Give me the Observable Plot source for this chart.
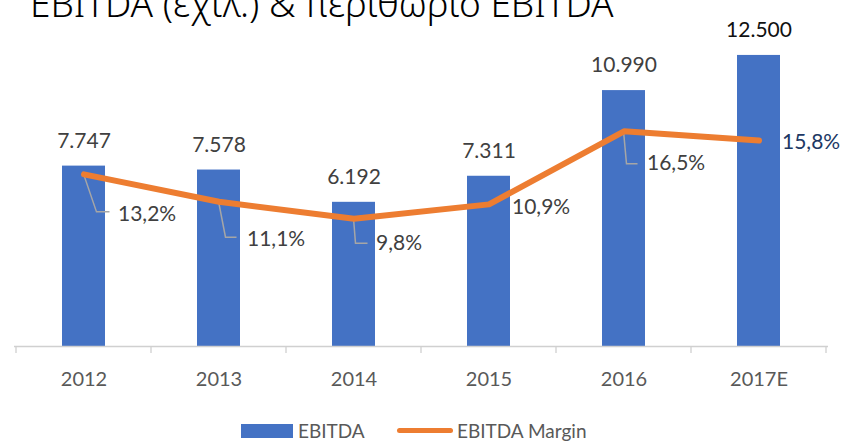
<!DOCTYPE html>
<html><head><meta charset="utf-8">
<script src="https://cdn.jsdelivr.net/npm/d3@7"></script>
<script src="https://cdn.jsdelivr.net/npm/@observablehq/plot@0.6"></script>
<style>
body{margin:0;background:#fff;font-family:Lato,"Noto Sans",sans-serif;}
#wrap{position:relative;width:846px;height:442px;overflow:hidden;background:#fff;}
#title{position:absolute;left:30px;top:-16px;font-family:"Noto Sans",sans-serif;font-weight:300;font-size:37px;line-height:37px;color:#000;white-space:nowrap;z-index:2;}
#chart svg{display:block;}
#legend{position:relative;height:32px;font-size:19px;color:#595959;}
#legend .sw1{position:absolute;left:241px;top:14px;width:52px;height:14px;background:#4472C4;}
#legend .t1{position:absolute;left:298px;top:10px;line-height:22px;}
#legend .sw2{position:absolute;left:397px;top:18px;width:56px;height:5px;border-radius:3px;background:#ED7D31;}
#legend .t2{position:absolute;left:457px;top:10px;line-height:22px;}
</style>
</head><body>
<div id="wrap">
  <div id="title">EBITDA (εχιλ.) &amp; περιθώριο EBITDA</div>
  <div id="chart"></div>
  <div id="legend"><div class="sw1"></div><div class="t1">EBITDA</div><div class="sw2"></div><div class="t2">EBITDA Margin</div></div>
</div>
<script>
const years = ["2012", "2013", "2014", "2015", "2016", "2017E"];
const ebitda = [7747, 7578, 6192, 7311, 10990, 12500];
const margin = [13.2, 11.1, 9.8, 10.9, 16.5, 15.8];
const yMax = 14000;      // primary axis max
const marginMax = 25;    // secondary axis max (%)

const rows = years.map((year, i) => ({year, ebitda: ebitda[i], margin: margin[i]}));
const toY = m => m * yMax / marginMax;

const grLocale = d3.formatLocale({decimal: ",", thousands: ".", grouping: [3], currency: ["", "€"]});
const fmtK = grLocale.format(",d");
const fmtPct = d => d.toFixed(1).replace(".", ",") + "%";

// label layout (pixel offsets from the line point)
const pctLayout = [
  {dx: 34, dy: 40, leader: [[13, 38], [26, 38]], fill: "#404040"},
  {dx: 28, dy: 38, leader: [[7, 36], [18, 36]], fill: "#404040"},
  {dx: 22, dy: 25, leader: [[2, 25], [14, 25]], fill: "#404040"},
  {dx: 23, dy: 3, leader: null, fill: "#404040"},
  {dx: 23, dy: 32, leader: [[3, 33], [14, 33]], fill: "#404040"},
  {dx: 23, dy: 2, leader: null, fill: "#203864"}
];
const barLabelFill = ["#404040", "#404040", "#404040", "#404040", "#404040", "#111111"];

const pctMarks = rows.map((r, i) => Plot.text([r], {
  x: "year", y: d => toY(d.margin), text: d => fmtPct(d.margin),
  dx: pctLayout[i].dx, dy: pctLayout[i].dy, textAnchor: "start",
  fontSize: 21, fill: pctLayout[i].fill
}));
const barLabelMarks = rows.map((r, i) => Plot.text([r], {
  x: "year", y: "ebitda", text: d => fmtK(d.ebitda), dy: -25,
  fontSize: 21, fill: barLabelFill[i]
}));

const plot = Plot.plot({
  width: 846, height: 410,
  marginLeft: 14, marginRight: 18, marginTop: 20, marginBottom: 64,
  style: {fontFamily: "Lato, 'Noto Sans', sans-serif", background: "#fff"},
  x: {domain: years, paddingInner: 0.685, paddingOuter: 0.3425, label: null},
  y: {domain: [0, yMax], axis: null},
  marks: [
    Plot.barY(rows, {x: "year", y: "ebitda", fill: "#4472C4"}),
    Plot.ruleY([0], {stroke: "#d0d0d0", strokeWidth: 1.3}),
    Plot.axisX({tickSize: 0, tickPadding: 25, fontSize: 20, fill: "#595959"}),
    Plot.line(rows, {x: "year", y: d => toY(d.margin), stroke: "#ED7D31", strokeWidth: 6,
      strokeLinecap: "round", strokeLinejoin: "round"}),
    ...barLabelMarks,
    ...pctMarks
  ]
});
document.getElementById("chart").appendChild(plot);

// tick marks at band boundaries and leader lines, from Plot's own scales
const xs = plot.scale("x"), ys = plot.scale("y");
const svg = d3.select(plot);
const y0 = ys.apply(0);
const half = (xs.step - xs.bandwidth) / 2;
const bounds = years.map(y => xs.apply(y) - half).concat([xs.apply(years[years.length - 1]) - half + xs.step]);
svg.append("g").attr("stroke", "#d0d0d0").attr("stroke-width", 1.3)
  .selectAll("line").data(bounds).join("line")
  .attr("x1", d => d).attr("x2", d => d).attr("y1", y0).attr("y2", y0 + 7);

const lineG = plot.querySelector('[stroke="#ED7D31"]');
const leaders = document.createElementNS("http://www.w3.org/2000/svg", "g");
lineG.parentNode.insertBefore(leaders, lineG);
d3.select(leaders).attr("fill", "none").attr("stroke", "#a6a6a6").attr("stroke-width", 1.5)
  .selectAll("path").data(rows.filter((r, i) => pctLayout[i].leader)).join("path")
  .attr("d", r => {
    const i = rows.indexOf(r);
    const px = xs.apply(r.year) + xs.bandwidth / 2, py = ys.apply(toY(r.margin));
    const [[ax, ay], [bx, by]] = pctLayout[i].leader;
    return `M${px},${py}L${px + ax},${py + ay}L${px + bx},${py + by}`;
  });
</script>
</body></html>
